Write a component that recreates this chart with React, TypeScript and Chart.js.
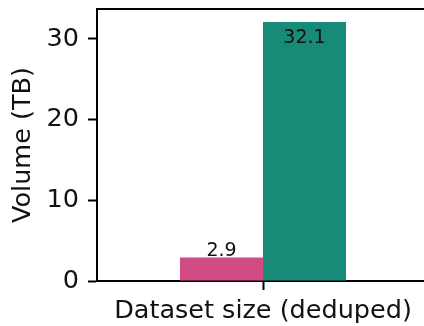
import React, { useEffect, useRef } from "react";
import { Chart, registerables } from "chart.js";

Chart.register(...registerables);

const categories = ["Dataset size (deduped)"];
const seriesA = [2.9];
const seriesB = [32.1];
const yTicks = [0, 10, 20, 30];
const colorA = "#d14b84";
const colorB = "#178a78";
const FONT = "'DejaVu Sans', sans-serif";

// Top spine (matplotlib-style frame)
const topSpine = {
  id: "topSpine",
  afterDraw(chart: any) {
    const { ctx, chartArea } = chart;
    ctx.save();
    ctx.strokeStyle = "#000";
    ctx.lineWidth = 2;
    ctx.beginPath();
    ctx.moveTo(chartArea.left - 1, chartArea.top);
    ctx.lineTo(chartArea.right + 1, chartArea.top);
    ctx.stroke();
    ctx.restore();
  },
};

// Value labels: above the short bar, inside the top of the tall bar
const barLabels = {
  id: "barLabels",
  afterDatasetsDraw(chart: any) {
    const { ctx } = chart;
    ctx.save();
    ctx.font = `19px ${FONT}`;
    ctx.fillStyle = "#111";
    ctx.textAlign = "center";
    ctx.textBaseline = "alphabetic";
    chart.data.datasets.forEach((ds: any, i: number) => {
      const meta = chart.getDatasetMeta(i);
      meta.data.forEach((el: any, j: number) => {
        const v = ds.data[j];
        const text = v.toFixed(1);
        if (i === 0) {
          ctx.fillText(text, el.x, el.y - 2);
        } else {
          ctx.fillText(text, el.x, el.y + 21);
        }
      });
    });
    ctx.restore();
  },
};

export default function App() {
  const ref = useRef<HTMLCanvasElement | null>(null);

  useEffect(() => {
    if (!ref.current) return;
    const chart = new Chart(ref.current, {
      type: "bar",
      data: {
        labels: categories,
        datasets: [
          { data: seriesA, backgroundColor: colorA, borderWidth: 0 },
          { data: seriesB, backgroundColor: colorB, borderWidth: 0 },
        ],
      },
      options: {
        animation: false,
        responsive: false,
        devicePixelRatio: 1,
        layout: { autoPadding: false, padding: { top: 9, right: 3, left: 0, bottom: 0 } },
        plugins: { legend: { display: false }, tooltip: { enabled: false } },
        datasets: { bar: { categoryPercentage: 0.5, barPercentage: 1.0 } },
        scales: {
          x: {
            offset: true,
            grid: {
              display: true,
              offset: false,
              drawOnChartArea: false,
              drawTicks: true,
              tickLength: 9,
              tickWidth: 2,
              tickColor: "#000",
            },
            border: { display: true, color: "#000", width: 2 },
            ticks: {
              color: "#111",
              font: { family: FONT, size: 25.5 },
              padding: 6,
            },
            afterFit(scale: any) {
              scale.height = 45;
              scale.paddingLeft = 0;
              scale.paddingRight = 0;
            },
          },
          y: {
            min: 0,
            max: 32.1 * 1.05,
            grid: {
              display: true,
              drawOnChartArea: false,
              drawTicks: true,
              tickLength: 9,
              tickWidth: 2,
              tickColor: "#000",
            },
            border: { display: true, color: "#000", width: 2 },
            ticks: {
              color: "#111",
              font: { family: FONT, size: 25.5 },
              padding: 9,
            },
            afterBuildTicks(scale: any) {
              scale.ticks = yTicks.map((v) => ({ value: v }));
            },
            title: {
              display: true,
              text: "Volume (TB)",
              color: "#111",
              font: { family: FONT, size: 25.5 },
              padding: { top: 8, bottom: 0 },
            },
            afterFit(scale: any) {
              scale.width = 97;
              scale.paddingTop = 0;
              scale.paddingBottom = 0;
            },
          },
        },
      },
      plugins: [topSpine, barLabels],
    });
    return () => chart.destroy();
  }, []);

  return (
    <div
      style={{
        position: "absolute",
        left: 0,
        top: 0,
        width: 424,
        height: 326,
        overflow: "hidden",
        background: "#fff",
      }}
    >
      <canvas ref={ref} width={432} height={326} style={{ display: "block" }} />
    </div>
  );
}
